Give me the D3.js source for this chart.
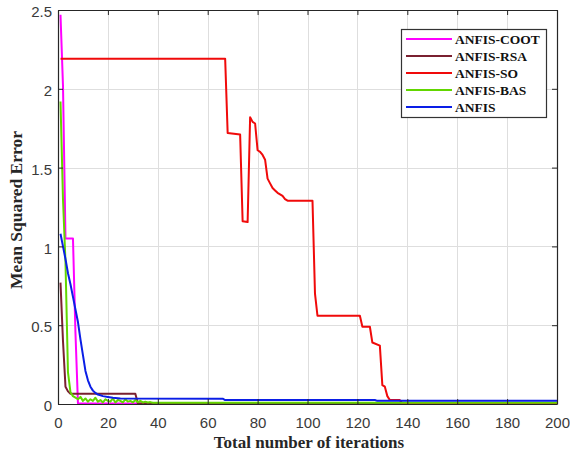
<!DOCTYPE html>
<html>
<head>
<meta charset="utf-8">
<script src="https://cdn.jsdelivr.net/npm/d3@7/dist/d3.min.js"></script>
<style>
  html, body { margin: 0; padding: 0; background: #ffffff; }
  svg { display: block; }
</style>
</head>
<body>
<svg id="chart" width="570" height="456"></svg>
<script>
// Axis ticks
const xTickValues = [0, 20, 40, 60, 80, 100, 120, 140, 160, 180, 200];
const xTickLabels = ["0", "20", "40", "60", "80", "100", "120", "140", "160", "180", "200"];
const yTickValues = [0, 0.5, 1, 1.5, 2, 2.5];
const yTickLabels = ["0", "0.5", "1", "1.5", "2", "2.5"];

// Series names (legend order)
const seriesNames = ["ANFIS-COOT", "ANFIS-RSA", "ANFIS-SO", "ANFIS-BAS", "ANFIS"];

// Convergence curves: iteration at each change point and the MSE there
const cootIter = [1, 2, 3, 6, 7, 8, 200];
const cootMse  = [2.47, 2.02, 1.05, 1.05, 0.45, 0.004, 0.003];

const rsaIter = [1, 2, 3, 4, 5, 31, 32, 200];
const rsaMse  = [0.77, 0.40, 0.11, 0.08, 0.065, 0.065, 0.004, 0.003];

const soIter = [1, 67, 68, 73, 74, 76, 77, 78, 79, 80, 81, 82, 83, 84, 85, 86, 87, 88, 89, 90, 91, 92,
                102, 103, 104, 121, 122, 125, 126, 129, 130, 131, 132, 133, 137, 138, 200];
const soMse  = [2.19, 2.19, 1.72, 1.71, 1.16, 1.155, 1.82, 1.79, 1.78, 1.61, 1.60, 1.58, 1.55, 1.43, 1.40, 1.37, 1.355, 1.34, 1.33, 1.32, 1.30, 1.29,
                1.29, 0.70, 0.56, 0.56, 0.49, 0.49, 0.39, 0.37, 0.12, 0.11, 0.05, 0.025, 0.025, 0.004, 0.003];

const basIter = [1, 2, 3, 4, 5, 6, 7, 8, 9, 10, 11, 12, 13, 14, 15, 16, 17, 18, 19, 20, 21, 22, 23, 24, 25,
                 26, 27, 28, 29, 30, 31, 32, 33, 34, 35, 36, 37, 38, 200];
const basMse  = [1.92, 1.30, 0.90, 0.20, 0.075, 0.05, 0.04, 0.03, 0.045, 0.02, 0.035, 0.015, 0.03, 0.02, 0.04, 0.015,
                 0.025, 0.01, 0.03, 0.02, 0.015, 0.035, 0.01, 0.025, 0.02, 0.01, 0.03, 0.015, 0.02, 0.01, 0.025,
                 0.012, 0.02, 0.01, 0.015, 0.01, 0.012, 0.008, 0.008];

const anfisIter = [1, 2, 3, 4, 5, 6, 7, 8, 9, 10, 11, 12, 13, 14, 15, 16, 18, 20, 22, 25, 66, 67, 127, 128, 200];
const anfisMse  = [1.08, 1.0, 0.92, 0.83, 0.76, 0.68, 0.60, 0.52, 0.41, 0.31, 0.21, 0.15, 0.11, 0.085, 0.07, 0.06,
                   0.05, 0.045, 0.04, 0.035, 0.034, 0.025, 0.025, 0.02, 0.02];

const seriesColors = ["#ff00ff", "#7a2030", "#f00a0a", "#62d600", "#0a1ee6"];

const series = [
  { name: seriesNames[0], iter: cootIter, mse: cootMse, color: seriesColors[0] },
  { name: seriesNames[1], iter: rsaIter, mse: rsaMse, color: seriesColors[1] },
  { name: seriesNames[2], iter: soIter, mse: soMse, color: seriesColors[2] },
  { name: seriesNames[3], iter: basIter, mse: basMse, color: seriesColors[3] },
  { name: seriesNames[4], iter: anfisIter, mse: anfisMse, color: seriesColors[4] }
];

const svg = d3.select("#chart");
const plot = { left: 58, right: 557, top: 10, bottom: 404 };

const x = d3.scaleLinear().domain([0, 200]).range([plot.left, plot.right]);
const y = d3.scaleLinear().domain([0, 2.5]).range([plot.bottom, plot.top]);

const tickFont = "'Liberation Sans', Arial, sans-serif";
const titleFont = "'Liberation Serif', 'Times New Roman', serif";

// Grid
const grid = svg.append("g").attr("stroke", "#dedede").attr("stroke-width", 1);
xTickValues.forEach(v => {
  grid.append("line")
    .attr("x1", Math.round(x(v)) + 0.5).attr("x2", Math.round(x(v)) + 0.5)
    .attr("y1", plot.top).attr("y2", plot.bottom);
});
yTickValues.forEach(v => {
  grid.append("line")
    .attr("y1", Math.round(y(v)) + 0.5).attr("y2", Math.round(y(v)) + 0.5)
    .attr("x1", plot.left).attr("x2", plot.right);
});

// Data lines
svg.append("defs").append("clipPath").attr("id", "clip")
  .append("rect")
  .attr("x", plot.left).attr("y", plot.top - 2)
  .attr("width", plot.right - plot.left).attr("height", plot.bottom - plot.top + 2);

const line = d3.line()
  .x(d => x(d[0]))
  .y(d => y(d[1]));

const lines = svg.append("g").attr("clip-path", "url(#clip)");
series.forEach(s => {
  const pts = s.iter.map((it, i) => [it, s.mse[i]]);
  lines.append("path")
    .datum(pts)
    .attr("fill", "none")
    .attr("stroke", s.color)
    .attr("stroke-width", 2)
    .attr("stroke-linejoin", "round")
    .attr("d", line);
});

// Axes (ticks pointing inward, box on all sides)
const xFmt = (d) => xTickLabels[xTickValues.indexOf(d)];
const yFmt = (d) => yTickLabels[yTickValues.indexOf(d)];

const xAxis = svg.append("g")
  .attr("transform", `translate(0,${plot.bottom})`)
  .call(d3.axisBottom(x).tickValues(xTickValues).tickFormat(xFmt).tickSizeInner(-5).tickSizeOuter(0).tickPadding(13));
const yAxis = svg.append("g")
  .attr("transform", `translate(${plot.left},0)`)
  .call(d3.axisLeft(y).tickValues(yTickValues).tickFormat(yFmt).tickSizeInner(-5).tickSizeOuter(0).tickPadding(6));
const xTop = svg.append("g")
  .attr("transform", `translate(0,${plot.top})`)
  .call(d3.axisTop(x).tickValues(xTickValues).tickFormat("").tickSizeInner(-5).tickSizeOuter(0));
const yRight = svg.append("g")
  .attr("transform", `translate(${plot.right},0)`)
  .call(d3.axisRight(y).tickValues(yTickValues).tickFormat("").tickSizeInner(-5).tickSizeOuter(0));

[xAxis, yAxis, xTop, yRight].forEach(g => {
  g.selectAll(".domain").attr("stroke", "#262626").attr("stroke-width", 1.2);
  g.selectAll(".tick line").attr("stroke", "#262626");
  g.selectAll(".tick text")
    .attr("font-family", tickFont)
    .attr("font-size", 15)
    .attr("fill", "#3a3a3a");
});
yAxis.selectAll(".tick text").attr("dy", "0.45em");

// Axis titles
svg.append("text")
  .attr("x", 309).attr("y", 448)
  .attr("text-anchor", "middle")
  .attr("font-family", titleFont)
  .attr("font-weight", "bold")
  .attr("font-size", 17)
  .attr("fill", "#262626")
  .text("Total number of iterations");

svg.append("text")
  .attr("transform", "translate(22,210) rotate(-90)")
  .attr("text-anchor", "middle")
  .attr("font-family", titleFont)
  .attr("font-weight", "bold")
  .attr("font-size", 17.5)
  .attr("fill", "#262626")
  .text("Mean Squared Error");

// Legend
const legend = svg.append("g");
legend.append("rect")
  .attr("x", 401.5).attr("y", 29.5)
  .attr("width", 145).attr("height", 88)
  .attr("fill", "#ffffff")
  .attr("stroke", "#333333")
  .attr("stroke-width", 1.2);

const legendY = d3.scalePoint().domain(seriesNames).range([39, 107]);
series.forEach(s => {
  const ly = legendY(s.name);
  legend.append("line")
    .attr("x1", 406).attr("x2", 452)
    .attr("y1", ly).attr("y2", ly)
    .attr("stroke", s.color)
    .attr("stroke-width", 2);
  legend.append("text")
    .attr("x", 455).attr("y", ly + 4.5)
    .attr("font-family", titleFont)
    .attr("font-weight", "bold")
    .attr("font-size", 13.5)
    .attr("fill", "#111111")
    .text(s.name);
});
</script>
</body>
</html>
